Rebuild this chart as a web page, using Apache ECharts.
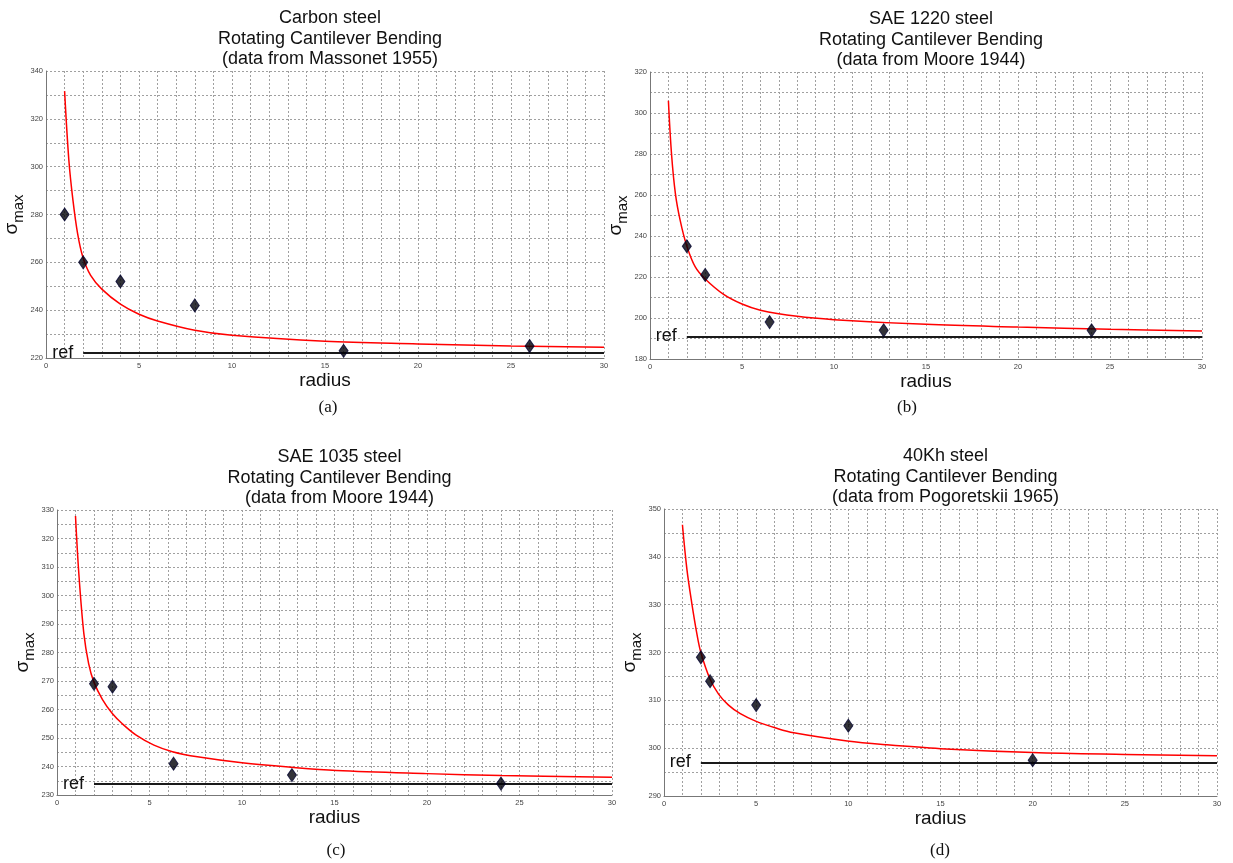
<!DOCTYPE html>
<html>
<head>
<meta charset="utf-8">
<script src="https://cdn.jsdelivr.net/npm/echarts@6/dist/echarts.min.js"></script>
<style>
html, body {margin: 0; padding: 0; background: #fff;}
#chart {width: 1233px; height: 863px;}
</style>
</head>
<body>
<div id="chart"></div>
<script>
// titles and captions
const title_ls = [
  'Carbon steel\nRotating Cantilever Bending\n(data from Massonet 1955)',
  'SAE 1220 steel\nRotating Cantilever Bending\n(data from Moore 1944)',
  'SAE 1035 steel\nRotating Cantilever Bending\n(data from Moore 1944)',
  '40Kh steel\nRotating Cantilever Bending\n(data from Pogoretskii 1965)'
];
const caption_ls = ['(a)', '(b)', '(c)', '(d)'];

// (a) carbon steel
const curveA_x = [1, 1.23, 1.45, 1.7, 1.98, 2.4, 3, 4, 5, 6, 8, 10, 15, 20, 25, 30];
const curveA_y = [331.6, 302.6, 285.9, 272, 262.2, 254.5, 248.8, 242.5, 238.3, 235.5, 231.6, 229.5, 227, 225.9, 225, 224.5];
const pointsA_x = [1, 2, 4, 8, 16, 26];
const pointsA_y = [280, 260, 252, 242, 223, 225];
const refA = 222;

// (b) SAE 1220
const curveB_x = [1, 1.17, 1.38, 1.64, 1.99, 2.46, 3, 4, 5, 6, 8, 10, 15, 20, 25, 30];
const curveB_y = [306, 280, 260.7, 247.6, 235.4, 224.9, 219, 211.5, 206.8, 203.8, 200.8, 199.2, 196.9, 195.6, 194.5, 193.7];
const pointsB_x = [2, 3, 6.5, 12.7, 24];
const pointsB_y = [235, 221, 198, 194, 194];
const refB = 191;

// (c) SAE 1035
const curveC_x = [1, 1.18, 1.45, 1.71, 1.99, 2.46, 2.99, 3.53, 4.28, 5.24, 6.24, 7.59, 10, 12.7, 15.1, 20, 24, 30];
const curveC_y = [327.9, 307.7, 286.7, 276.1, 269.7, 263.5, 258.6, 255, 251, 247.5, 245.2, 243.4, 241.3, 239.7, 238.6, 237.5, 236.8, 236.2];
const pointsC_x = [2, 3, 6.3, 12.7, 24];
const pointsC_y = [269, 268, 241, 237, 234];
const refC = 234;

// (d) 40Kh
const curveD_x = [1, 1.24, 1.5, 1.78, 2, 2.49, 2.96, 3.5, 4.14, 5, 6.07, 7.04, 9.94, 12.1, 15, 20, 25, 30];
const curveD_y = [346.7, 337.5, 330.5, 324, 320, 314.5, 311.3, 309, 307.2, 305.6, 304.2, 303.2, 301.5, 300.7, 299.9, 299.1, 298.7, 298.4];
const pointsD_x = [2, 2.5, 5, 10, 20];
const pointsD_y = [319, 314, 309, 304.7, 297.5];
const refD = 297;

// y ranges: [min, max, interval]
const yrange_ls = [[220, 340, 20], [180, 320, 20], [230, 330, 10], [290, 350, 10]];

const panels = [
  {cx: curveA_x, cy: curveA_y, px: pointsA_x, py: pointsA_y, ref: refA},
  {cx: curveB_x, cy: curveB_y, px: pointsB_x, py: pointsB_y, ref: refB},
  {cx: curveC_x, cy: curveC_y, px: pointsC_x, py: pointsC_y, ref: refC},
  {cx: curveD_x, cy: curveD_y, px: pointsD_x, py: pointsD_y, ref: refD}
];

// layout of the four plots
const grid_ls = [
  {left: 46, top: 71, width: 558, height: 287},
  {left: 650, top: 72, width: 552, height: 287},
  {left: 57, top: 510, width: 555, height: 285},
  {left: 664, top: 509, width: 553, height: 287}
];
const caption_pos = [[328, 408], [907, 408], [336, 851], [940, 851]];

const SANS = 'Liberation Sans, Arial, sans-serif';
const dotted = {color: '#a0a0a0', width: 1, type: [2, 2]};
const zip = (a, b) => a.map((v, i) => [v, b[i]]);

var chartDom = document.getElementById('chart');
var myChart = echarts.init(chartDom, null, {renderer: 'canvas'});

var titles = [], xAxes = [], yAxes = [], series = [], graphics = [];
grid_ls.forEach(function (g, i) {
  g.outerBoundsMode = 'none';
  g.containLabel = false;
  titles.push({
    text: title_ls[i], left: g.left + g.width / 2, top: g.top - 68, textAlign: 'center',
    textStyle: {fontFamily: SANS, fontSize: 18, fontWeight: 'normal', color: '#111', lineHeight: 20.5}
  });
  xAxes.push({
    gridIndex: i, type: 'value', min: 0, max: 30, interval: 5,
    name: 'radius', nameLocation: 'middle', nameGap: 12,
    nameTextStyle: {fontFamily: SANS, fontSize: 19, color: '#111', verticalAlign: 'top'},
    axisLine: {show: true, lineStyle: {color: '#777', width: 1}},
    axisTick: {show: false},
    axisLabel: {fontFamily: SANS, fontSize: 7.5, color: '#444', margin: 4},
    splitLine: {show: true, lineStyle: dotted},
    minorTick: {show: false, splitNumber: 5},
    minorSplitLine: {show: true, lineStyle: dotted}
  });
  var yr = yrange_ls[i];
  yAxes.push({
    gridIndex: i, type: 'value', min: yr[0], max: yr[1], interval: yr[2],
    name: '{s|σ}{m|max}', nameLocation: 'middle', nameRotate: 90, nameGap: 18,
    nameTextStyle: {rich: {
      s: {fontFamily: SANS, fontSize: 19, color: '#111', lineHeight: 16, verticalAlign: 'top'},
      m: {fontFamily: SANS, fontSize: 15, color: '#111', lineHeight: 24, verticalAlign: 'bottom'}
    }},
    axisLine: {show: true, lineStyle: {color: '#777', width: 1}},
    axisTick: {show: false},
    axisLabel: {fontFamily: SANS, fontSize: 7.5, color: '#444', margin: 3},
    splitLine: {show: true, lineStyle: dotted},
    minorTick: {show: false, splitNumber: 2},
    minorSplitLine: {show: true, lineStyle: dotted}
  });
  var p = panels[i];
  series.push({
    type: 'line', xAxisIndex: i, yAxisIndex: i, data: zip(p.cx, p.cy),
    showSymbol: false, smooth: 0.35,
    lineStyle: {color: '#ff0000', width: 1.5}, z: 3, silent: true
  });
  series.push({
    type: 'scatter', xAxisIndex: i, yAxisIndex: i, data: zip(p.px, p.py),
    symbol: 'diamond', symbolSize: [9, 13],
    itemStyle: {color: '#000008', borderColor: '#000030', borderWidth: 1}, z: 5,
    markLine: {
      silent: true, symbol: 'none',
      lineStyle: {color: '#1a1a1a', width: 2, type: 'solid'},
      label: {show: true, position: 'start', formatter: 'ref', distance: 10,
              fontFamily: SANS, fontSize: 18, color: '#111'},
      data: [[{coord: [2, p.ref]}, {coord: [30, p.ref]}]]
    }
  });
  graphics.push({
    type: 'text', x: caption_pos[i][0], y: caption_pos[i][1],
    style: {text: caption_ls[i], fill: '#111', font: '17px "Liberation Serif", "Times New Roman", serif',
            textAlign: 'center', textVerticalAlign: 'middle'}
  });
});

var option = {
  backgroundColor: '#fff',
  animation: false,
  title: titles,
  grid: grid_ls,
  xAxis: xAxes,
  yAxis: yAxes,
  series: series,
  graphic: graphics
};
option && myChart.setOption(option);
</script>
</body>
</html>
